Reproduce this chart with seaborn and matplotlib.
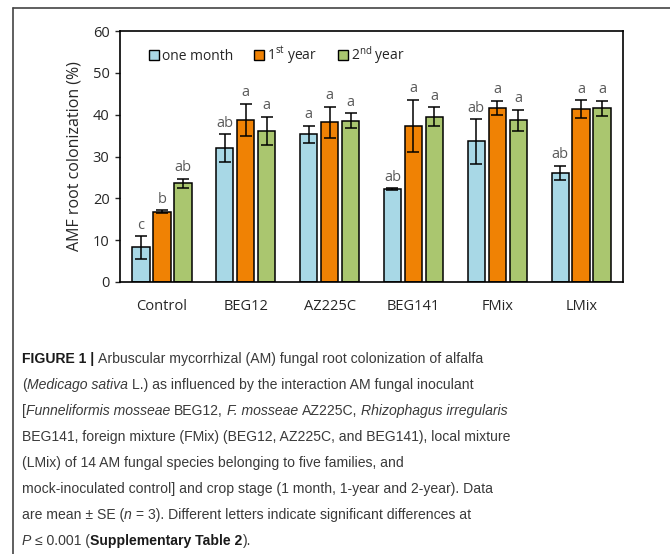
import re
import matplotlib
matplotlib.use('Agg')
import matplotlib.pyplot as plt
from matplotlib import font_manager
from matplotlib.lines import Line2D
import seaborn as sns
import pandas as pd


groups = ['Control', 'BEG12', 'AZ225C', 'BEG141', 'FMix', 'LMix']
stages = ['one month', '1st year', '2nd year']
one_month = [8.3, 32.0, 35.3, 22.2, 33.6, 26.1]
first_year = [16.8, 38.8, 38.2, 37.3, 41.6, 41.3]
second_year = [23.6, 36.1, 38.6, 39.5, 38.7, 41.5]
se_one_month = [2.7, 3.3, 2.0, 0.2, 5.3, 1.7]
se_first_year = [0.3, 3.8, 3.7, 6.3, 1.7, 2.1]
se_second_year = [1.1, 3.4, 1.7, 2.3, 2.5, 1.8]
letters_one_month = ['c', 'ab', 'a', 'ab', 'ab', 'ab']
letters_first_year = ['b', 'a', 'a', 'a', 'a', 'a']
letters_second_year = ['ab', 'a', 'a', 'a', 'a', 'a']
colors = ['#a8d8e6', '#f08204', '#aac66f']

# **bold**, _italic_
caption_lines = [
    '**FIGURE 1 |** Arbuscular mycorrhizal (AM) fungal root colonization of alfalfa',
    '(_Medicago sativa_ L.) as influenced by the interaction AM fungal inoculant',
    '[_Funneliformis mosseae_ BEG12, _F. mosseae_ AZ225C, _Rhizophagus irregularis_',
    'BEG141, foreign mixture (FMix) (BEG12, AZ225C, and BEG141), local mixture',
    '(LMix) of 14 AM fungal species belonging to five families, and',
    'mock-inoculated control] and crop stage (1 month, 1-year and 2-year). Data',
    'are mean ± SE (_n_ = 3). Different letters indicate significant differences at',
    '_P_ ≤ 0.001 (**Supplementary Table 2**).',
]

installed = {f.name for f in font_manager.fontManager.ttflist}
cap_font = 'Liberation Sans Narrow' if 'Liberation Sans Narrow' in installed else 'Liberation Sans'
cap_size = 12.2 if cap_font == 'Liberation Sans Narrow' else 10.1

sns.set_style('white')
plt.rcParams['font.family'] = ['Open Sans', 'DejaVu Sans']

df = pd.DataFrame({
    'group': groups * 3,
    'stage': [s for s in stages for _ in groups],
    'value': one_month + first_year + second_year,
    'se': se_one_month + se_first_year + se_second_year,
    'letter': letters_one_month + letters_first_year + letters_second_year,
})

fig = plt.figure(figsize=(6.7, 5.54), dpi=100)
ax = fig.add_axes([0.179, 0.491, 0.751, 0.453])

sns.barplot(data=df, x='group', y='value', hue='stage', order=groups, hue_order=stages,
            palette=colors, saturation=1, width=0.75, gap=0.17, edgecolor='black',
            linewidth=1.1, errorbar=None, legend=False, ax=ax)

# error bars and letters on top of the bars, matched by position
bars = sorted(ax.patches, key=lambda p: p.get_x())
ordered = df.assign(g=df['group'].map(groups.index), s=df['stage'].map(stages.index))
ordered = ordered.sort_values(['g', 's']).reset_index(drop=True)
for bar, (_, row) in zip(bars, ordered.iterrows()):
    xc = bar.get_x() + bar.get_width() / 2
    ax.errorbar(xc, row['value'], yerr=row['se'], color='black', lw=1.1,
                capsize=4.5, capthick=1.1)
    ax.annotate(row['letter'], (xc, row['value'] + row['se']), xytext=(0, 2.5),
                textcoords='offset points', ha='center', va='bottom',
                fontsize=10.5, color='#5a5a5a')

ax.set_ylim(0, 60)
ax.set_xlim(-0.5, 5.5)
ax.set_yticks(range(0, 61, 10))
ax.set_xlabel('')
ax.set_ylabel('AMF root colonization (%)', fontsize=11.5, labelpad=7)
ax.tick_params(axis='y', left=True, length=3.5, width=1, pad=4, labelsize=10.5)
ax.tick_params(axis='x', bottom=False, pad=9, labelsize=10.5)
for sp in ax.spines.values():
    sp.set_color('black')
    sp.set_linewidth(1.2)

handles = [plt.Rectangle((0, 0), 1, 1, facecolor=c, edgecolor='black', lw=1) for c in colors]
labels = ['one month', r'1$^{\mathregular{st}}$ year', r'2$^{\mathregular{nd}}$ year']
fig.legend(handles, labels, loc='center', bbox_to_anchor=(277 / 670, 1 - 55 / 554),
           ncol=3, frameon=False, fontsize=10, handlelength=0.7, handleheight=0.7,
           handletextpad=0.25, columnspacing=1.5, borderpad=0)

# page frame
fig.add_artist(Line2D([13 / 670, 13 / 670], [0, 1 - 8 / 554], transform=fig.transFigure,
                      color='#444444', lw=1.2))
fig.add_artist(Line2D([13 / 670, 1], [1 - 8 / 554, 1 - 8 / 554], transform=fig.transFigure,
                      color='#444444', lw=1.2))

# caption, drawn piece by piece so bold/italic runs can sit inline
renderer = fig.canvas.get_renderer()
styles = {'n': dict(), 'i': dict(style='italic'), 'b': dict(weight='bold', color='#1a1a1a')}


def width_px(s, **kw):
    t = fig.text(0, 0, s, family=cap_font, fontsize=cap_size, **kw)
    w = t.get_window_extent(renderer).width
    t.remove()
    return w


space_px = width_px('a a') - width_px('aa')

for i, line in enumerate(caption_lines):
    y = 1 - (363 + 26 * i) / 554
    x_px = 22
    for tok in re.split(r'(\*\*.+?\*\*|_.+?_)', line):
        if not tok:
            continue
        if tok.startswith('**'):
            kind, body = 'b', tok[2:-2]
        elif tok.startswith('_'):
            kind, body = 'i', tok[1:-1]
        else:
            kind, body = 'n', tok
        x_px += space_px * (len(body) - len(body.lstrip(' ')))
        core = body.strip(' ')
        if core:
            kw = dict(color='#3a3a3a')
            kw.update(styles[kind])
            t = fig.text(x_px / 670, y, core, family=cap_font, fontsize=cap_size,
                         va='baseline', ha='left', **kw)
            x_px += t.get_window_extent(renderer).width
        x_px += space_px * (len(body) - len(body.rstrip(' ')))

fig.savefig('out.png', dpi=100)
